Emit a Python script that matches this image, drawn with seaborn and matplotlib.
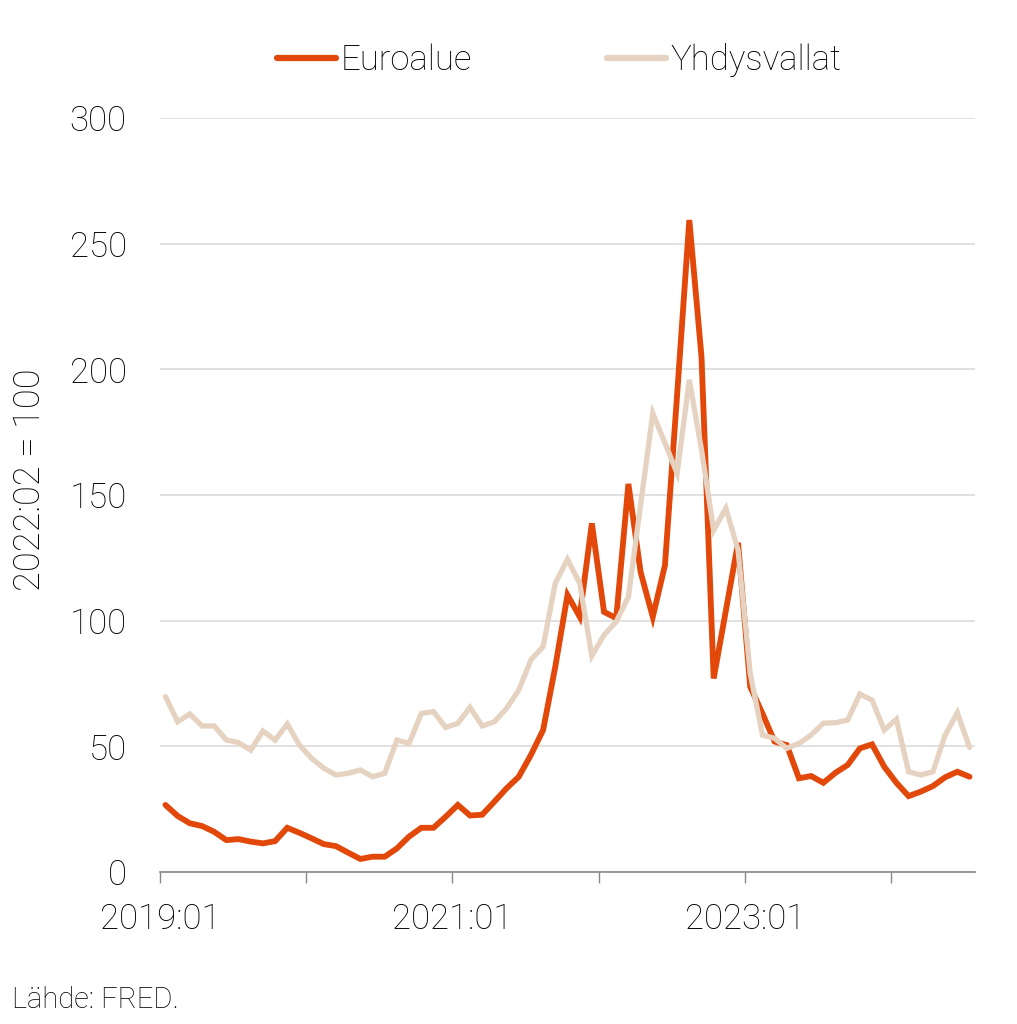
import numpy as np
import pandas as pd
import matplotlib.pyplot as plt
import seaborn as sns

# monthly index, 2022:02 = 100, from 2019:01 to 2024:07
months = pd.period_range("2019-01", periods=67, freq="M")

euroalue = [26.7, 22.3, 19.4, 18.3, 16.0, 12.7, 13.1, 12.1, 11.4, 12.3, 17.6, 15.6,
            13.4, 11.1, 10.3, 7.7, 5.2, 6.1, 6.1, 9.4, 14.1, 17.6, 17.6, 22.0,
            26.7, 22.5, 22.8, 28.0, 33.3, 37.9, 46.6, 56.5, 81.7, 110.2, 101.6, 138.7,
            103.5, 101.0, 154.4, 119.4, 101.5, 122.0, 190.0, 259.4, 205.0, 77.0, 104.0, 131.0,
            73.7, 63.1, 51.9, 50.5, 37.3, 38.2, 35.5, 39.5, 42.6, 49.2, 50.8, 41.9,
            35.5, 30.2, 32.0, 34.2, 37.7, 39.9, 37.9]

yhdysvallat = [69.8, 59.8, 62.9, 58.1, 58.1, 52.5, 51.5, 48.5, 56.1, 52.5, 58.9, 50.5,
               45.2, 41.3, 38.6, 39.3, 40.6, 37.9, 39.3, 52.5, 51.2, 63.1, 63.8, 57.5,
               59.2, 65.5, 58.1, 59.8, 65.1, 72.4, 84.4, 89.7, 114.9, 124.4, 114.9, 86.0,
               94.3, 99.6, 109.5, 146.0, 182.5, 170.7, 158.6, 195.8, 168.0, 136.0, 144.7, 128.1,
               79.0, 54.5, 53.2, 49.2, 51.2, 54.5, 59.2, 59.4, 60.5, 70.8, 68.4, 56.5,
               60.8, 39.9, 38.6, 39.9, 54.5, 63.4, 49.6]

series_names = ["Euroalue", "Yhdysvallat"]
colors = {"Euroalue": "#E1480A", "Yhdysvallat": "#E6D2C0"}
tick_labels = ["2019:01", "", "2021:01", "", "2023:01", ""]

# long format, points placed mid-month
pos = np.arange(len(months)) + 0.45
df = pd.concat([
    pd.DataFrame({"x": pos, "value": euroalue, "series": "Euroalue"}),
    pd.DataFrame({"x": pos, "value": yhdysvallat, "series": "Yhdysvallat"}),
])

sns.set_style("white")
plt.rcParams['font.family'] = ['Roboto', 'DejaVu Sans']
plt.rcParams['font.weight'] = 'light'
plt.rcParams['text.color'] = 'black'
plt.rcParams['xtick.labelcolor'] = 'black'
plt.rcParams['ytick.labelcolor'] = 'black'
plt.rcParams['axes.labelcolor'] = 'black'

fig = plt.figure(figsize=(10.17, 10.24), dpi=100)
ax = fig.add_axes([0.1573, 0.1484, 0.8014, 0.7364])

ax.yaxis.grid(True, color="#d9d9d9", linewidth=1.1)
ax.set_axisbelow(True)

sns.lineplot(data=df, x="x", y="value", hue="series", hue_order=series_names,
             palette=colors, linewidth=4.2, ax=ax, legend=False)
for line in ax.lines:
    line.set_solid_joinstyle("miter")
ax.lines[1].set_linewidth(3.8)

ax.set_xlim(0, 66.9)
ax.set_ylim(0, 300)
ax.set_yticks([0, 50, 100, 150, 200, 250, 300])
ax.set_xticks(np.arange(0, 67, 12))
ax.set_xticklabels(tick_labels)
ax.tick_params(axis="x", direction="out", length=8, width=1, color="#888888",
               labelsize=25, pad=14, bottom=True)
ax.tick_params(axis="y", length=0, labelsize=25, pad=24)

for s in ["top", "right", "left"]:
    ax.spines[s].set_visible(False)
ax.spines["bottom"].set_color("#888888")
ax.spines["bottom"].set_linewidth(1.2)

ax.set_xlabel("")
ax.set_ylabel("2022:02 = 100", fontsize=26, fontweight="light")
ax.yaxis.set_label_coords(-0.137, 0.52)

handles = [plt.Line2D([], [], color=colors[n], linewidth=4.5, solid_capstyle="round")
           for n in series_names]
fig.legend(handles, series_names, loc="center", bbox_to_anchor=(0.55, 0.941),
           ncol=2, frameon=False, fontsize=25, handlelength=1.7, handletextpad=0.12,
           columnspacing=3.9)

fig.text(0.012, 0.01, "Lähde: FRED.", fontsize=21, ha="left", va="bottom")

fig.savefig("out.png", dpi=100)
